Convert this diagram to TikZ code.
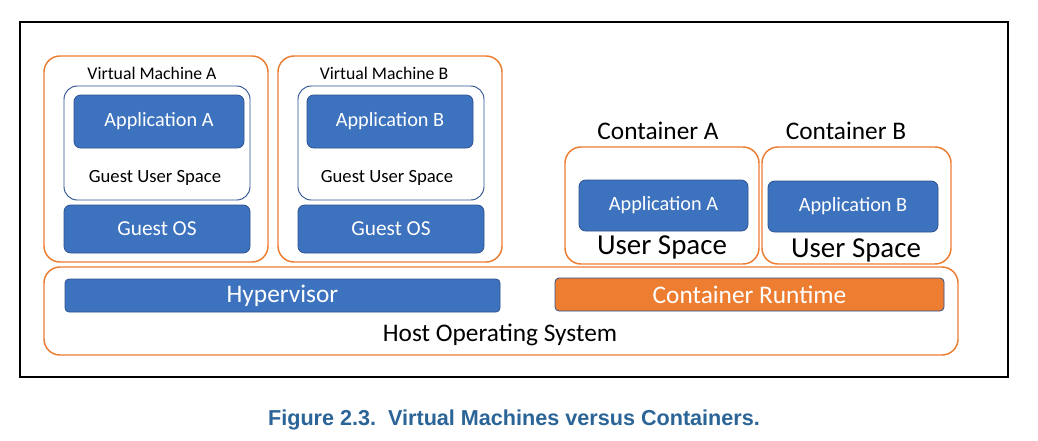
\documentclass[tikz,border=0pt]{standalone}
\usepackage{fontspec}
\setmainfont{Carlito}
\newfontfamily\capfont{Liberation Sans}
\definecolor{bfill}{HTML}{3D72BE}
\definecolor{bline}{HTML}{2F528F}
\definecolor{orng}{HTML}{ED7D31}
\definecolor{capblue}{HTML}{2B6497}
\newcommand{\fs}[1]{\fontsize{#1}{#1}\selectfont}
\tikzset{
  orbox/.style={draw=orng, line width=1.1pt, rounded corners=12pt},
  bluebox/.style={draw=bline, fill=bfill, line width=0.6pt, rounded corners=5pt},
  guestbox/.style={draw=bline, line width=0.7pt, rounded corners=10pt},
  wtxt/.style={text=white, inner sep=0pt},
  ktxt/.style={text=black, inner sep=0pt}
}
\begin{document}
\begin{tikzpicture}[x=0.75pt,y=-0.75pt]
\useasboundingbox (0,0) rectangle (1038,440);
\fill[white] (0,0) rectangle (1038,440);
\draw[line width=1.5pt] (20,22) rectangle (1008,377);
% VM A
\draw[orbox] (44,56) rectangle (268,262);
\node[ktxt,font=\fs{13.3}] (vmat) at (152,73) {Virtual Machine A};
\draw[guestbox] (64,86) rectangle (250,200);
\node[bluebox, minimum width=170*0.75pt, minimum height=53*0.75pt] (appa1) at (159,121.5) {};
\node[wtxt,font=\fs{15.2}] at (appa1) {Application A};
\node[ktxt,font=\fs{14}] (gusa) at (155,178) {Guest User Space};
\node[bluebox, minimum width=186*0.75pt, minimum height=48*0.75pt] (gosa) at (157,229) {};
\node[wtxt,font=\fs{16}] at (gosa) {Guest OS};
% VM B
\draw[orbox] (278,56) rectangle (502,262);
\node[ktxt,font=\fs{13.3}] (vmbt) at (384,73) {Virtual Machine B};
\draw[guestbox] (298,86) rectangle (484,200);
\node[bluebox, minimum width=166*0.75pt, minimum height=53*0.75pt] (appb1) at (390,121.5) {};
\node[wtxt,font=\fs{15.2}] at (appb1) {Application B};
\node[ktxt,font=\fs{14}] (gusb) at (387,178) {Guest User Space};
\node[bluebox, minimum width=186*0.75pt, minimum height=48*0.75pt] (gosb) at (391,229) {};
\node[wtxt,font=\fs{16}] at (gosb) {Guest OS};
% Container A
\node[ktxt,font=\fs{19}] (cat) at (658,131) {Container A};
\draw[orbox] (565,147) rectangle (759,264);
\node[bluebox, minimum width=169*0.75pt, minimum height=51*0.75pt] (appa2) at (663.5,205.5) {};
\node[wtxt,font=\fs{15.2}] at (appa2) {Application A};
\node[ktxt,font=\fs{21.7}] (usa) at (662,247) {User Space};
% Container B
\node[ktxt,font=\fs{19}] (cbt) at (846,131) {Container B};
\draw[orbox] (762,147) rectangle (951,264);
\node[bluebox, minimum width=170*0.75pt, minimum height=51*0.75pt] (appb2) at (853,206.5) {};
\node[wtxt,font=\fs{15.2}] at (appb2) {Application B};
\node[ktxt,font=\fs{21.7}] (usb) at (856,250) {User Space};
% Host
\draw[orbox] (44,267) rectangle (958,355);
\node[bluebox, rounded corners=3pt, minimum width=435*0.75pt, minimum height=33*0.75pt] (hyp) at (282.5,295.5) {};
\node[wtxt,font=\fs{19}] at (hyp) {Hypervisor};
\node[draw=bline, fill=orng, line width=0.6pt, rounded corners=3pt, minimum width=389*0.75pt, minimum height=33*0.75pt] (crt) at (749.5,294.5) {};
\node[wtxt,font=\fs{19}] at (crt) {Container Runtime};
\node[ktxt,font=\fs{19}] (hos) at (500,335) {Host Operating System};
% caption
\node[text=capblue,font=\capfont\bfseries\fs{16.2}, inner sep=0pt] (cap) at (514,420) {Figure 2.3.\ \ Virtual Machines versus Containers.};
\end{tikzpicture}
\end{document}
